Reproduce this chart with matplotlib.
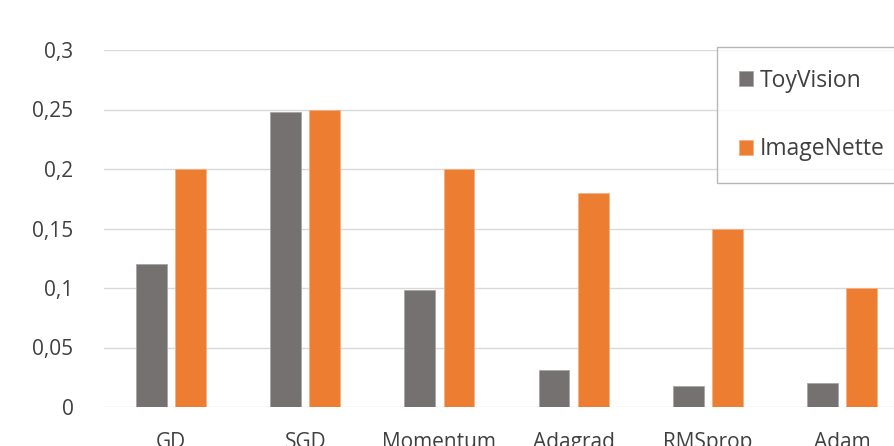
import matplotlib.pyplot as plt
import numpy as np

optimizers = ["GD", "SGD", "Momentum", "Adagrad", "RMSprop", "Adam"]
toyvision = [0.12, 0.248, 0.098, 0.031, 0.018, 0.02]
imagenette = [0.2, 0.25, 0.2, 0.18, 0.15, 0.1]
yticks = [0, 0.05, 0.1, 0.15, 0.2, 0.25, 0.3]
ytick_labels = ["0", "0,05", "0,1", "0,15", "0,2", "0,25", "0,3"]

plt.rcParams['font.family'] = ['Open Sans', 'DejaVu Sans']
text_color = '#404040'

fig = plt.figure(figsize=(8.94, 4.46), dpi=100)
ax = fig.add_axes([104 / 894, 39 / 446, 805 / 894, 357 / 446])

x = np.arange(len(optimizers))
w = 0.23
ax.bar(x - 0.146, toyvision, w, color='#767171', edgecolor='#a6a6a6', linewidth=0.6,
       label='ToyVision', zorder=3)
ax.bar(x + 0.146, imagenette, w, color='#ED7D31', edgecolor='#f4b183', linewidth=0.6,
       label='ImageNette', zorder=3)

ax.set_xlim(-0.5, 5.5)
ax.set_ylim(0, 0.3)
ax.set_yticks(yticks)
ax.set_yticklabels(ytick_labels)
ax.set_xticks(x)
ax.set_xticklabels(optimizers)
ax.grid(axis='y', color='#d9d9d9', linewidth=1, zorder=0)
ax.set_axisbelow(True)
for s in ax.spines.values():
    s.set_visible(False)
ax.tick_params(axis='both', length=0, labelsize=15, colors=text_color)
ax.tick_params(axis='y', pad=22)
ax.tick_params(axis='x', pad=18)

leg = ax.legend(loc='upper left', bbox_to_anchor=(717 / 894, 1 - 47 / 446),
                bbox_transform=fig.transFigure, fontsize=16.5, frameon=True,
                fancybox=False, edgecolor='#a6a6a6', labelspacing=1.95,
                handlelength=0.6, handleheight=0.6, handletextpad=0.3,
                borderpad=0.95, borderaxespad=0)
for t in leg.get_texts():
    t.set_color(text_color)

fig.savefig('out.png', dpi=100)
